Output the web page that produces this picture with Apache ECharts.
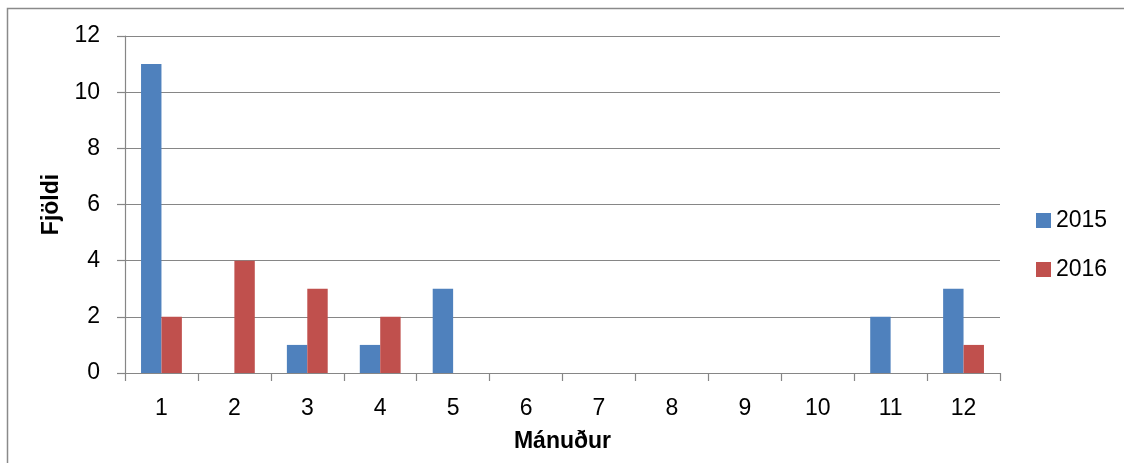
<!DOCTYPE html>
<html>
<head>
<meta charset="utf-8">
<script src="https://cdn.jsdelivr.net/npm/echarts@6/dist/echarts.min.js"></script>
<style>
html,body{margin:0;padding:0;background:#fff;}
#chart{width:1124px;height:463px;}
</style>
</head>
<body>
<div id="chart"></div>
<script>
var months = ['1','2','3','4','5','6','7','8','9','10','11','12'];
var series2015 = [11,0,1,1,3,0,0,0,0,0,2,3];
var series2016 = [2,4,3,2,0,0,0,0,0,0,0,1];
var yTicks = [0,2,4,6,8,10,12];

var FONT = "'Liberation Sans', Arial, sans-serif";
var chart = echarts.init(document.getElementById('chart'));
chart.setOption({
  animation: false,
  textStyle: {fontFamily: FONT},
  graphic: [{
    type: 'rect', silent: true,
    shape: {x: 7.5, y: 8.5, width: 1140, height: 480},
    style: {fill: 'none', stroke: '#8a8a8a', lineWidth: 1.5}
  }],
  legend: {
    orient: 'vertical',
    left: 1031, top: 204,
    itemWidth: 15, itemHeight: 15, itemGap: 26,
    icon: 'rect',
    textStyle: {fontFamily: FONT, fontSize: 23, color: '#000'},
    data: ['2015','2016']
  },
  grid: {left: 125, right: 124, top: 36, bottom: 90},
  xAxis: {
    type: 'category',
    data: months,
    name: 'Mánuður',
    nameLocation: 'middle',
    nameGap: 57,
    nameTextStyle: {fontFamily: FONT, fontSize: 23, fontWeight: 'bold', color: '#000'},
    axisLine: {lineStyle: {color: '#868686', width: 1.2}},
    axisTick: {show: true, length: 8, alignWithLabel: false, lineStyle: {color: '#868686', width: 1.2}},
    axisLabel: {fontFamily: FONT, fontSize: 23, color: '#000', margin: 24}
  },
  yAxis: {
    type: 'value',
    min: yTicks[0], max: yTicks[yTicks.length-1], interval: 2,
    name: 'Fjöldi',
    nameLocation: 'middle',
    nameGap: 62,
    nameTextStyle: {fontFamily: FONT, fontSize: 23, fontWeight: 'bold', color: '#000'},
    axisLine: {show: true, lineStyle: {color: '#868686', width: 1.2}},
    axisTick: {show: true, length: 8, lineStyle: {color: '#868686', width: 1.2}},
    axisLabel: {fontFamily: FONT, fontSize: 23, color: '#000', margin: 25},
    splitLine: {show: true, lineStyle: {color: '#868686', width: 1.2}}
  },
  series: [
    {name: '2015', type: 'bar', data: series2015, barWidth: '28%', barGap: '0%', itemStyle: {color: '#4F81BD'}},
    {name: '2016', type: 'bar', data: series2016, barWidth: '28%', barGap: '0%', itemStyle: {color: '#C0504D'}}
  ]
});
</script>
</body>
</html>
